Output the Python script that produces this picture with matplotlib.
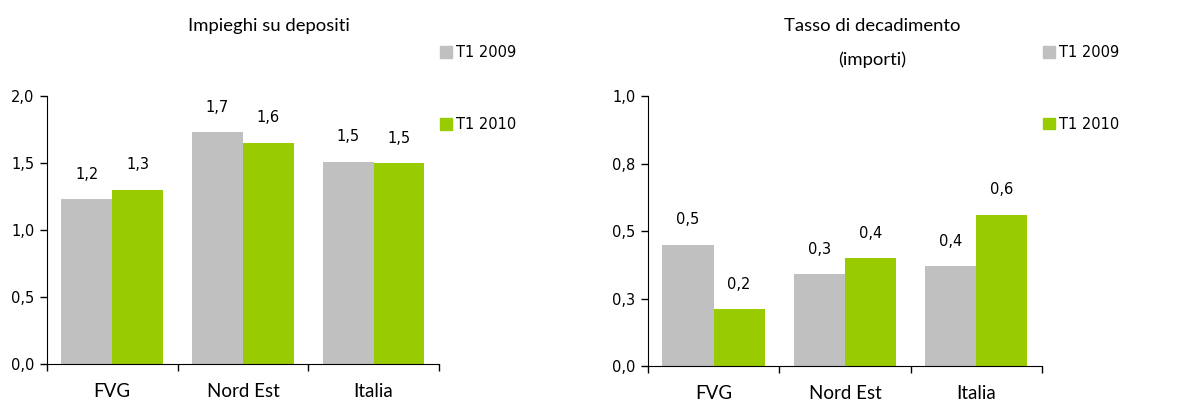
import matplotlib
matplotlib.use("Agg")
import matplotlib.pyplot as plt
from matplotlib.patches import Patch

categories = ["FVG", "Nord Est", "Italia"]
series = ["T1 2009", "T1 2010"]

impieghi_2009 = [1.23, 1.73, 1.51]
impieghi_2010 = [1.30, 1.65, 1.50]

decad_2009 = [0.45, 0.34, 0.37]
decad_2010 = [0.21, 0.40, 0.56]

left_yticks = [0.0, 0.5, 1.0, 1.5, 2.0]
left_yticklabels = ["0,0", "0,5", "1,0", "1,5", "2,0"]
right_yticks = [0.0, 0.25, 0.5, 0.75, 1.0]
right_yticklabels = ["0,0", "0,3", "0,5", "0,8", "1,0"]

GRAY = "#C0C0C0"
GREEN = "#99CC00"
NARROW = ["Lato", "DejaVu Sans"]
NUMF = 10.5
TITF = 13.3

plt.rcParams["font.family"] = ["DejaVu Sans"]

fig = plt.figure(figsize=(12.02, 4.01), dpi=100)
ax1 = fig.add_axes([0.0391, 0.0923, 0.326, 0.668])
ax2 = fig.add_axes([0.539, 0.0873, 0.3278, 0.673])


def draw(ax, v09, v10, yticks, yticklabels):
    x = list(range(len(categories)))
    w = 0.39
    b1 = ax.bar([i - w / 2 for i in x], v09, w, color=GRAY, label=series[0])
    b2 = ax.bar([i + w / 2 for i in x], v10, w, color=GREEN, label=series[1])
    for bars, vals in ((b1, v09), (b2, v10)):
        for r, v in zip(bars, vals):
            ax.annotate(f"{v:.1f}".replace(".", ","),
                        (r.get_x() + r.get_width() / 2, r.get_height()),
                        xytext=(0, 18), textcoords="offset points",
                        ha="center", va="center", fontsize=NUMF)
    ax.set_xlim(-0.5, len(categories) - 0.5)
    ax.set_ylim(yticks[0], yticks[-1])
    ax.set_yticks(yticks)
    ax.set_yticklabels(yticklabels, fontsize=NUMF)
    ax.set_xticks([i - 0.5 for i in range(len(categories) + 1)])
    ax.set_xticklabels([])
    ax.set_xticks(x, minor=True)
    ax.set_xticklabels(categories, minor=True, fontsize=13.5, family=NARROW)
    ax.tick_params(axis="x", which="minor", length=0, pad=14)
    ax.tick_params(axis="both", which="major", length=5, width=1, pad=4)
    for s in ("top", "right"):
        ax.spines[s].set_visible(False)
    ax.legend(handles=[Patch(color=GRAY, label=series[0]),
                       Patch(color=GREEN, label=series[1])],
              loc="upper left", bbox_to_anchor=(1.003, 1.19),
              frameon=False, fontsize=NUMF, borderpad=0, borderaxespad=0,
              handlelength=0.85, handleheight=0.85, handletextpad=0.25,
              labelspacing=3.9)


draw(ax1, impieghi_2009, impieghi_2010, left_yticks, left_yticklabels)
draw(ax2, decad_2009, decad_2010, right_yticks, right_yticklabels)

fig.text(0.2238, 0.935, "Impieghi su depositi", ha="center", va="center",
         fontsize=TITF, family=NARROW)
fig.text(0.7255, 0.935, "Tasso di decadimento", ha="center", va="center",
         fontsize=TITF, family=NARROW)
fig.text(0.7255, 0.850, "(importi)", ha="center", va="center",
         fontsize=TITF, family=NARROW)

fig.savefig("out.png", dpi=100)
